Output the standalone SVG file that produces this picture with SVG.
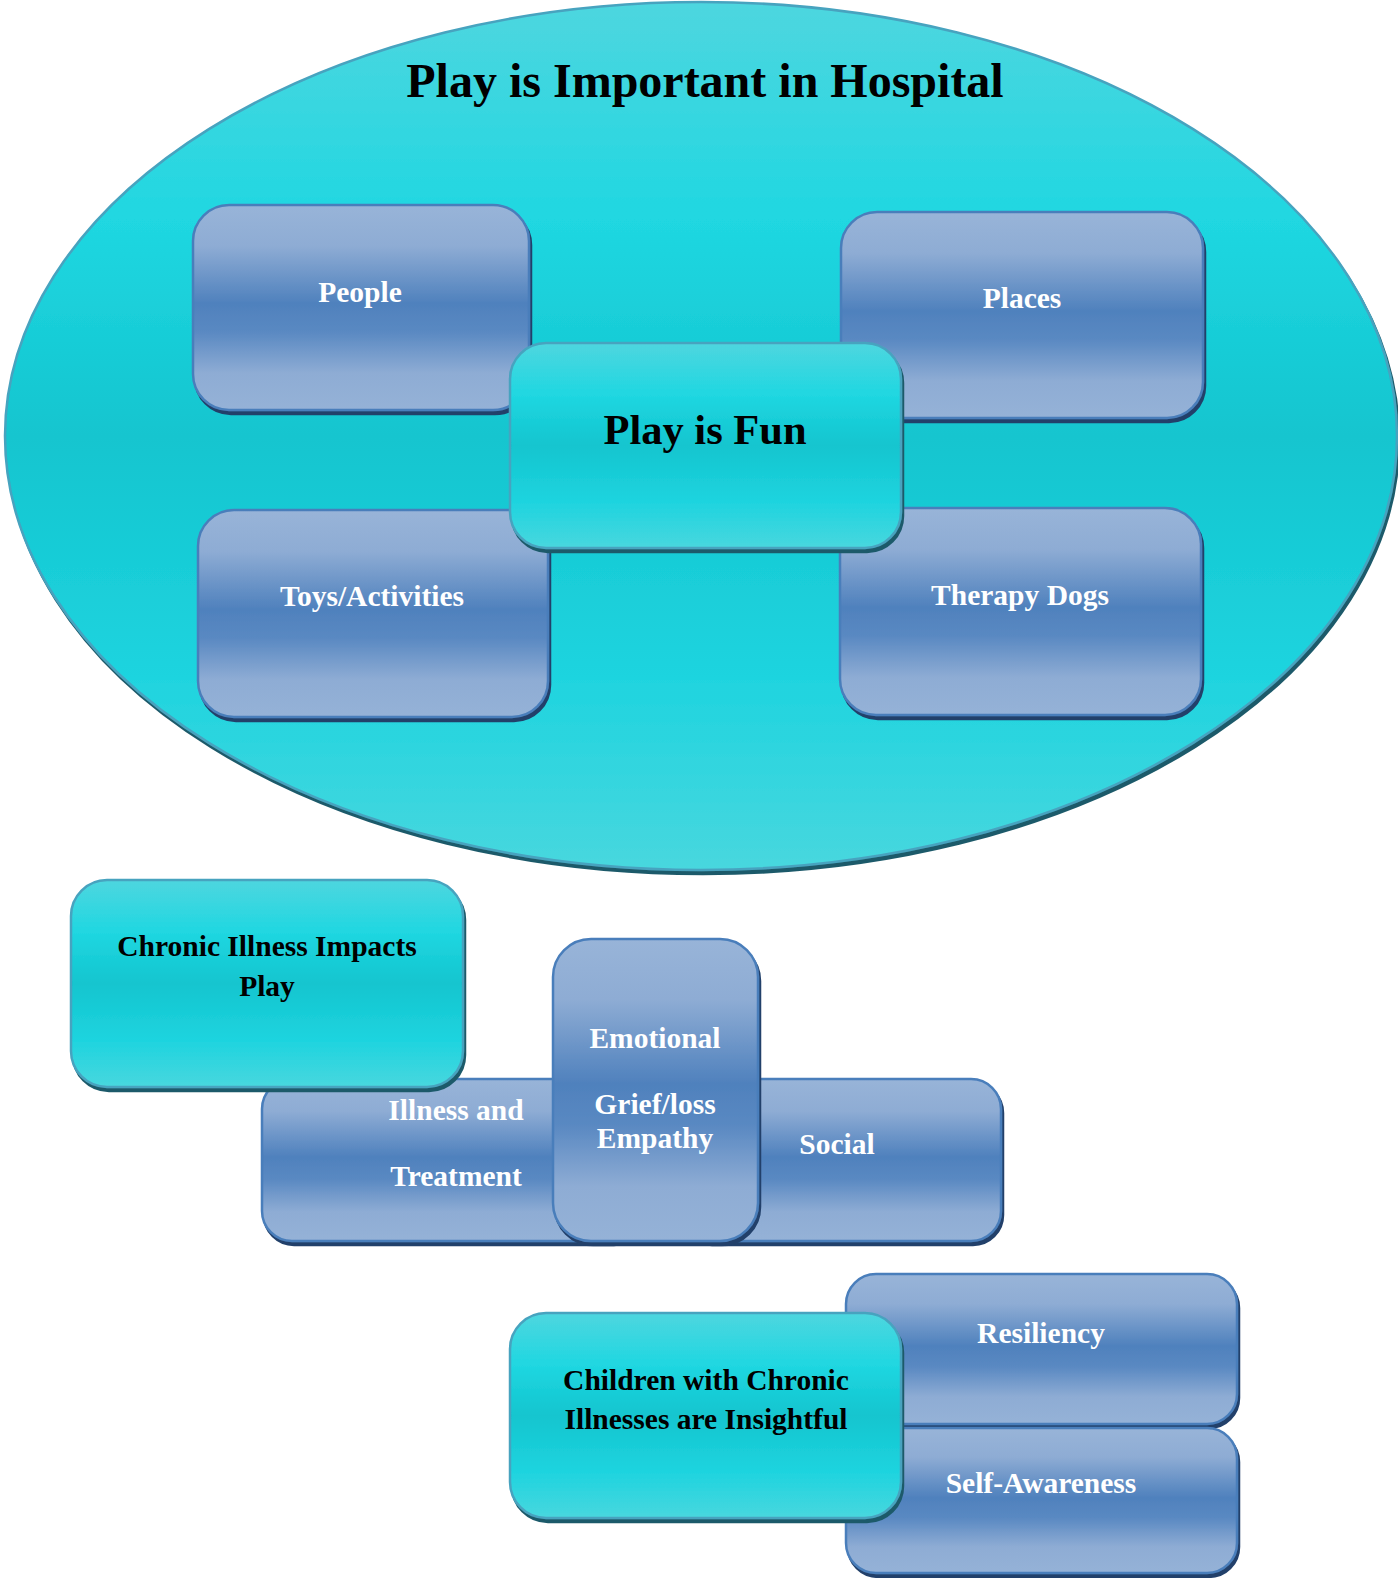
<svg xmlns="http://www.w3.org/2000/svg" width="1398" height="1578" viewBox="0 0 1398 1578">
<defs>
<linearGradient id="gBlue" x1="0" y1="0" x2="0" y2="1">
<stop offset="0" stop-color="#98b4d8"/>
<stop offset="0.2" stop-color="#8eacd4"/>
<stop offset="0.48" stop-color="#4f81bd"/>
<stop offset="0.62" stop-color="#5a89c2"/>
<stop offset="0.82" stop-color="#8eacd4"/>
<stop offset="1" stop-color="#95b2d7"/>
</linearGradient>
<linearGradient id="gCyan" x1="0" y1="0" x2="0" y2="1">
<stop offset="0" stop-color="#4ed6df"/>
<stop offset="0.25" stop-color="#20d7e1"/>
<stop offset="0.5" stop-color="#12c5cf"/>
<stop offset="0.78" stop-color="#1fd4df"/>
<stop offset="1" stop-color="#48d7de"/>
</linearGradient>
<filter id="shBlue" x="-5%" y="-5%" width="110%" height="115%">
<feDropShadow dx="2" dy="4" stdDeviation="0.6" flood-color="#22406a" flood-opacity="1"/>
</filter>
<filter id="shCyan" x="-5%" y="-5%" width="110%" height="115%">
<feDropShadow dx="2" dy="4" stdDeviation="0.6" flood-color="#1f5a6a" flood-opacity="1"/>
</filter>
<style>
.blue{fill:url(#gBlue);stroke:#4a7ebb;stroke-width:2.5;filter:url(#shBlue)}
.cyan{fill:url(#gCyan);stroke:#47a3bf;stroke-width:2.5;filter:url(#shCyan)}
.wt{font-family:"Liberation Serif","Times New Roman",serif;font-weight:bold;font-size:29.5px;fill:#ffffff;text-anchor:middle}
.bt{font-family:"Liberation Serif","Times New Roman",serif;font-weight:bold;font-size:29.5px;fill:#000000;text-anchor:middle}
</style>
</defs>
<g id="hospital">
<ellipse cx="701" cy="436" rx="696" ry="434" fill="url(#gCyan)" stroke="#47a3bf" stroke-width="2.5" filter="url(#shCyan)"/>
<text x="705" y="97" class="bt" style="font-size:48px">Play is Important in Hospital</text>
</g>
<g id="people">
<rect x="193" y="205" width="336" height="205" rx="36" class="blue"/>
<text x="360" y="302" class="wt">People</text>
</g>
<g id="places">
<rect x="841" y="212" width="362" height="206" rx="36" class="blue"/>
<text x="1022" y="308" class="wt">Places</text>
</g>
<g id="toys">
<rect x="198" y="510" width="350" height="207" rx="36" class="blue"/>
<text x="372" y="606" class="wt">Toys/Activities</text>
</g>
<g id="dogs">
<rect x="840" y="508" width="361" height="207" rx="36" class="blue"/>
<text x="1020" y="605" class="wt">Therapy Dogs</text>
</g>
<g id="fun">
<rect x="510" y="343" width="391" height="205" rx="36" class="cyan"/>
<text x="705" y="444" class="bt" style="font-size:42.5px">Play is Fun</text>
</g>
<g id="illness">
<rect x="262" y="1079" width="380" height="162" rx="30" class="blue"/>
<text x="456" y="1120" class="wt">Illness and</text>
<text x="456" y="1186" class="wt">Treatment</text>
</g>
<g id="social">
<rect x="680" y="1079" width="321" height="162" rx="30" class="blue"/>
<text x="837" y="1154" class="wt">Social</text>
</g>
<g id="emotional">
<rect x="553" y="939" width="205" height="302" rx="38" class="blue"/>
<text x="655" y="1048" class="wt">Emotional</text>
<text x="655" y="1114" class="wt">Grief/loss</text>
<text x="655" y="1148" class="wt">Empathy</text>
</g>
<g id="chronic">
<rect x="71" y="880" width="392" height="207" rx="36" class="cyan"/>
<text x="267" y="956" class="bt">Chronic Illness Impacts</text>
<text x="267" y="996" class="bt">Play</text>
</g>
<g id="resiliency">
<rect x="846" y="1274" width="391" height="150" rx="30" class="blue"/>
<text x="1041" y="1343" class="wt">Resiliency</text>
</g>
<g id="selfawareness">
<rect x="846" y="1428" width="391" height="145" rx="30" class="blue"/>
<text x="1041" y="1493" class="wt">Self-Awareness</text>
</g>
<g id="children">
<rect x="510" y="1313" width="391" height="205" rx="36" class="cyan"/>
<text x="706" y="1390" class="bt">Children with Chronic</text>
<text x="706" y="1429" class="bt">Illnesses are Insightful</text>
</g>
<g id="connectors"></g>
</svg>
